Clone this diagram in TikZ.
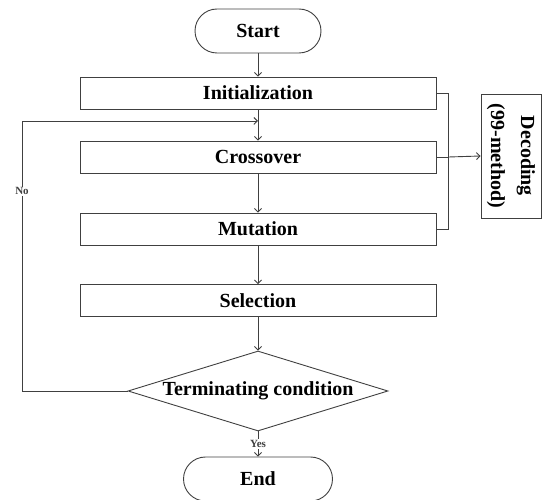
\documentclass[tikz,border=0pt]{standalone}
\usepackage{fontspec}
\setmainfont{Liberation Serif}
\usetikzlibrary{arrows.meta,shapes.geometric}
\begin{document}
\begin{tikzpicture}[
    x=1pt, y=-1pt,
    every node/.style={font=\fontsize{20}{30}\selectfont\bfseries},
    proc/.style={draw=black!75, line width=0.9pt, minimum width=356pt, minimum height=32pt, inner sep=0pt},
    term/.style={draw=black!75, line width=0.9pt, rounded corners=22pt, minimum height=44pt, inner sep=0pt},
    cond/.style={draw=black!75, line width=0.9pt, diamond, aspect=3.25, inner sep=0pt, minimum width=260pt, minimum height=80pt},
    dec/.style={draw=black!75, line width=0.9pt, rotate=-90, align=center, minimum width=124pt, minimum height=60pt, inner sep=0pt},
    lbl/.style={font=\fontsize{11}{13}\selectfont\bfseries, fill=white, inner sep=1pt},
    flow/.style={-{Straight Barb[length=3.5pt,width=7pt]}, line width=0.9pt, black!75},
    line/.style={line width=0.9pt, black!75},
]
\useasboundingbox (0,0) rectangle (542,500);
\node[term, minimum width=126pt] (start) at (258,31) {Start};
\node[proc] (init) at (258,93) {Initialization};
\node[proc] (cross) at (258,157) {Crossover};
\node[proc] (mut) at (258,229) {Mutation};
\node[proc] (sel) at (258,300.5) {Selection};
\node[cond] (term) at (258,391) {Terminating condition};
\node[term, minimum width=149pt] (end) at (258,479) {End};
\node[dec] (decode) at (511,156) {Decoding\\(99-method)};
\coordinate (join) at (258,121);
\draw[flow] (start) -- (init);
\draw[flow] (init) -- (cross);
\draw[flow] (cross) -- (mut);
\draw[flow] (mut) -- (sel);
\draw[flow] (sel) -- (term);
\draw[flow] (term) -- node[lbl] {Yes} (end);
% loop back when the condition fails
\draw[flow] (term.west) -- (22,391) -- node[lbl, pos=0.74] {No} (22,121) -- (join);
% bracket to the decoding box
\draw[line] (init.east) -- ++(12,0) coordinate (btop) -- (btop |- mut.east) -- (mut.east);
\draw[line] (cross.east) -- ++(12,0) coordinate (bmid);
\draw[flow] (bmid) -- (decode.south);
\end{tikzpicture}
\end{document}
